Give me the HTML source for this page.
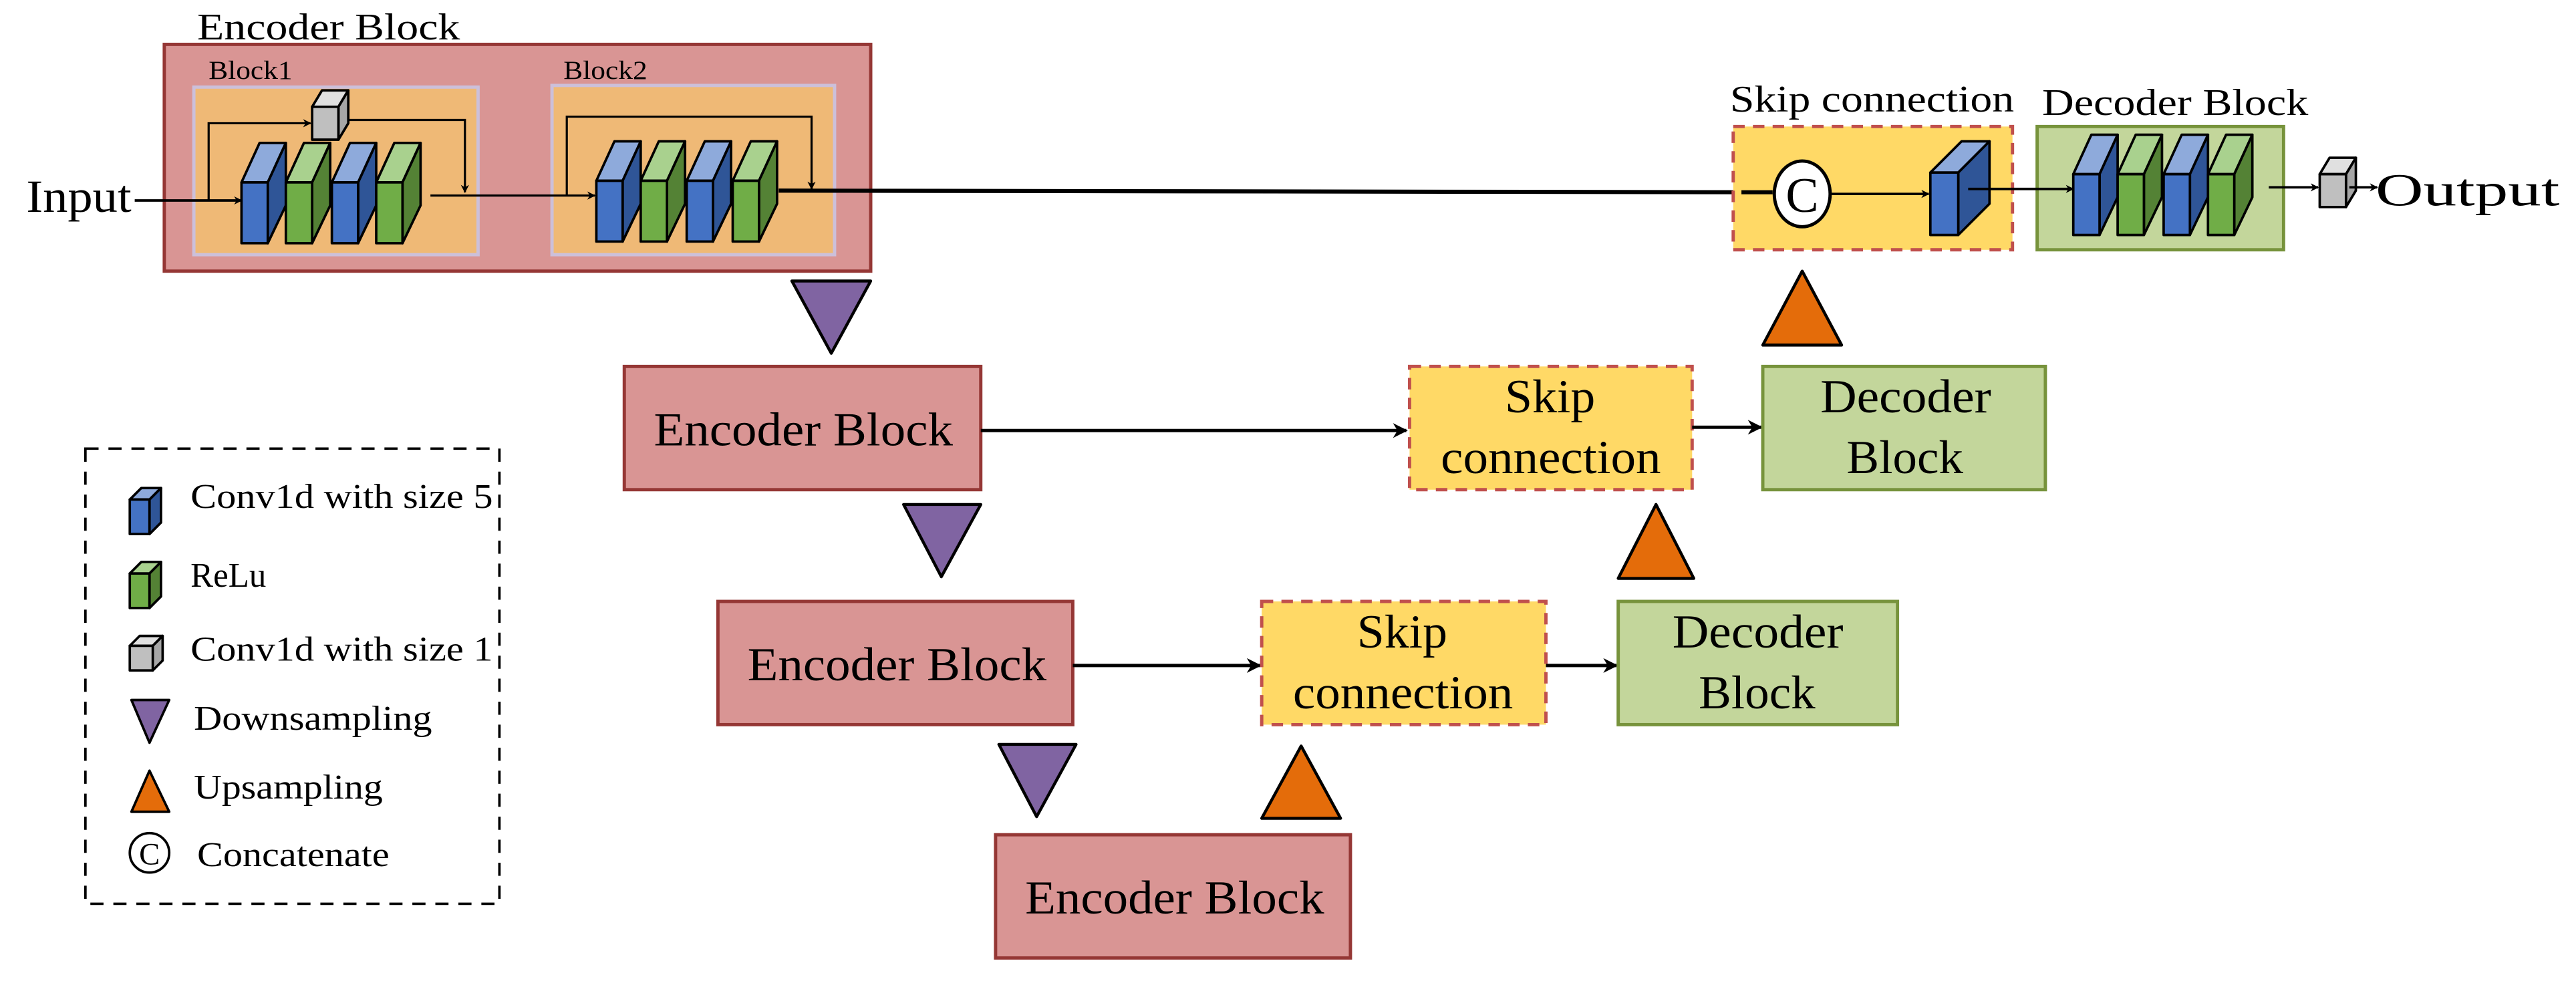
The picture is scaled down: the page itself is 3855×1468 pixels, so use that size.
<!DOCTYPE html>
<html><head><meta charset="utf-8"><style>html,body{margin:0;padding:0;background:#fff}svg{display:block}text{font-family:"Liberation Serif","Times New Roman",serif;fill:#000}</style></head>
<body>
<svg width="3855" height="1468" viewBox="0 0 1568 597" preserveAspectRatio="none" xmlns="http://www.w3.org/2000/svg" font-family="Liberation Serif, serif">
<defs>
<marker id="ar" viewBox="0 0 10 10" refX="9" refY="5" markerWidth="5" markerHeight="5" orient="auto" markerUnits="userSpaceOnUse"><path d="M0,0 L10,5 L0,10 L3,5 z" fill="#000"/></marker>
<marker id="ar2" viewBox="0 0 10 10" refX="9" refY="5" markerWidth="9" markerHeight="9" orient="auto" markerUnits="userSpaceOnUse"><path d="M0,0 L10,5 L0,10 L3,5 z" fill="#000"/></marker>
<g id="bs" stroke="#000" stroke-width="1.5" stroke-linejoin="round">
<polygon points="0,0 16,0 27,-24 11,-24" fill="#8eaadb"/>
<polygon points="16,0 27,-24 27,14 16,37" fill="#2f5597"/>
<rect x="0" y="0" width="16" height="37" fill="#4472c4"/></g>
<g id="gs" stroke="#000" stroke-width="1.5" stroke-linejoin="round">
<polygon points="0,0 16,0 27,-24 11,-24" fill="#a9d18e"/>
<polygon points="16,0 27,-24 27,14 16,37" fill="#548235"/>
<rect x="0" y="0" width="16" height="37" fill="#70ad47"/></g>
<g id="cube" stroke="#000" stroke-width="1.5" stroke-linejoin="round">
<polygon points="0,0 16,0 22,-10 6,-10" fill="#e0e0e0"/>
<polygon points="16,0 22,-10 22,10 16,20" fill="#a6a6a6"/>
<rect x="0" y="0" width="16" height="20" fill="#bfbfbf"/></g>
<g id="lb" stroke="#000" stroke-width="1.5" stroke-linejoin="round">
<polygon points="0,0 12,0 19,-7 7,-7" fill="#8eaadb"/>
<polygon points="12,0 19,-7 19,14 12,21" fill="#2f5597"/>
<rect x="0" y="0" width="12" height="21" fill="#4472c4"/></g>
<g id="lg" stroke="#000" stroke-width="1.5" stroke-linejoin="round">
<polygon points="0,0 12,0 19,-7 7,-7" fill="#a9d18e"/>
<polygon points="12,0 19,-7 19,14 12,21" fill="#548235"/>
<rect x="0" y="0" width="12" height="21" fill="#70ad47"/></g>
<g id="lc" stroke="#000" stroke-width="1.5" stroke-linejoin="round">
<polygon points="0,0 14,0 20,-6 6,-6" fill="#e0e0e0"/>
<polygon points="14,0 20,-6 20,9 14,15" fill="#a6a6a6"/>
<rect x="0" y="0" width="14" height="15" fill="#bfbfbf"/></g>
</defs>

<!-- top encoder -->
<text x="120" y="24" font-size="23" textLength="160" lengthAdjust="spacingAndGlyphs">Encoder Block</text>
<rect x="100" y="27" width="430" height="138" fill="#d99594" stroke="#953735" stroke-width="2"/>
<text x="127" y="48" font-size="16" textLength="51" lengthAdjust="spacingAndGlyphs">Block1</text>
<text x="343" y="48" font-size="16" textLength="51" lengthAdjust="spacingAndGlyphs">Block2</text>
<rect x="118" y="53" width="173" height="102" fill="#efb976" stroke="#ccc0da" stroke-width="2"/>
<rect x="336" y="52" width="172" height="103" fill="#efb976" stroke="#ccc0da" stroke-width="2"/>

<text x="16" y="129" font-size="28" textLength="64" lengthAdjust="spacingAndGlyphs">Input</text>
<line x1="82" y1="122" x2="147" y2="122" stroke="#000" stroke-width="1.5" marker-end="url(#ar)"/>
<polyline points="127,122 127,75 189,75" fill="none" stroke="#000" stroke-width="1.3" marker-end="url(#ar)"/>
<polyline points="210,73 283,73 283,117" fill="none" stroke="#000" stroke-width="1.3" marker-end="url(#ar)"/>
<use href="#cube" x="190" y="65"/>
<use href="#bs" x="147" y="111"/><use href="#gs" x="174" y="111"/><use href="#bs" x="202" y="111"/><use href="#gs" x="229" y="111"/>
<line x1="262" y1="119" x2="362" y2="119" stroke="#000" stroke-width="1.3" marker-end="url(#ar)"/>
<polyline points="345,119 345,71 494,71 494,115" fill="none" stroke="#000" stroke-width="1.3" marker-end="url(#ar)"/>
<use href="#bs" x="363" y="110"/><use href="#gs" x="390" y="110"/><use href="#bs" x="418" y="110"/><use href="#gs" x="446" y="110"/>
<line x1="474" y1="116" x2="1077" y2="117" stroke="#000" stroke-width="2.5" marker-end="url(#ar2)"/>

<!-- top skip -->
<text x="1053" y="68" font-size="23" textLength="173" lengthAdjust="spacingAndGlyphs">Skip connection</text>
<rect x="1055" y="77" width="170" height="75" fill="#ffd966" stroke="#c0504d" stroke-width="2" stroke-dasharray="7,5"/>
<line x1="1060" y1="117" x2="1079" y2="117" stroke="#000" stroke-width="2.5"/>
<ellipse cx="1097" cy="118" rx="17" ry="20" fill="#fff" stroke="#000" stroke-width="2"/>
<text x="1097" y="129" font-size="30" text-anchor="middle">C</text>
<line x1="1114" y1="118" x2="1174" y2="118" stroke="#000" stroke-width="1.5" marker-end="url(#ar)"/>
<g stroke="#000" stroke-width="1.5" stroke-linejoin="round">
<polygon points="1175,105 1192,105 1211,86 1194,86" fill="#8eaadb"/>
<polygon points="1192,105 1211,86 1211,124 1192,143" fill="#2f5597"/>
<rect x="1175" y="105" width="17" height="38" fill="#4472c4"/></g>

<!-- top decoder -->
<text x="1243" y="70" font-size="23" textLength="162" lengthAdjust="spacingAndGlyphs">Decoder Block</text>
<rect x="1240" y="77" width="150" height="75" fill="#c3d69b" stroke="#77933c" stroke-width="2"/>
<line x1="1198" y1="115" x2="1262" y2="115" stroke="#000" stroke-width="1.5" marker-end="url(#ar)"/>
<use href="#bs" x="1262" y="106"/><use href="#gs" x="1289" y="106"/><use href="#bs" x="1317" y="106"/><use href="#gs" x="1344" y="106"/>
<line x1="1381" y1="114" x2="1411" y2="114" stroke="#000" stroke-width="1.5" marker-end="url(#ar)"/>
<use href="#cube" x="1412" y="106"/>
<line x1="1430" y1="114" x2="1447" y2="114" stroke="#000" stroke-width="1.5" marker-end="url(#ar)"/>
<text x="1446" y="125" font-size="28" textLength="112" lengthAdjust="spacingAndGlyphs">Output</text>

<!-- triangles -->
<g stroke="#000" stroke-width="1.8" stroke-linejoin="round">
<polygon points="482,171 530,171 506,215" fill="#8064a2"/>
<polygon points="550,307 597,307 573,351" fill="#8064a2"/>
<polygon points="608,453 655,453 631,497" fill="#8064a2"/>
<polygon points="1073,210 1121,210 1097,165" fill="#e46c0a"/>
<polygon points="985,352 1031,352 1008,307" fill="#e46c0a"/>
<polygon points="768,498 816,498 792,454" fill="#e46c0a"/>
</g>

<!-- level 2 -->
<rect x="380" y="223" width="217" height="75" fill="#d99594" stroke="#953735" stroke-width="2"/>
<text x="398" y="271" font-size="29" textLength="182" lengthAdjust="spacingAndGlyphs">Encoder Block</text>
<line x1="597" y1="262" x2="856" y2="262" stroke="#000" stroke-width="2" marker-end="url(#ar2)"/>
<rect x="858" y="223" width="172" height="75" fill="#ffd966" stroke="#c0504d" stroke-width="2" stroke-dasharray="7,5"/>
<text x="916" y="251" font-size="29" textLength="55" lengthAdjust="spacingAndGlyphs">Skip</text>
<text x="877" y="288" font-size="29" textLength="134" lengthAdjust="spacingAndGlyphs">connection</text>
<line x1="1030" y1="260" x2="1072" y2="260" stroke="#000" stroke-width="2" marker-end="url(#ar2)"/>
<rect x="1073" y="223" width="172" height="75" fill="#c3d69b" stroke="#77933c" stroke-width="2"/>
<text x="1108" y="251" font-size="29" textLength="104" lengthAdjust="spacingAndGlyphs">Decoder</text>
<text x="1124" y="288" font-size="29" textLength="71" lengthAdjust="spacingAndGlyphs">Block</text>

<!-- level 3 -->
<rect x="437" y="366" width="216" height="75" fill="#d99594" stroke="#953735" stroke-width="2"/>
<text x="455" y="414" font-size="29" textLength="182" lengthAdjust="spacingAndGlyphs">Encoder Block</text>
<line x1="653" y1="405" x2="767" y2="405" stroke="#000" stroke-width="2" marker-end="url(#ar2)"/>
<rect x="768" y="366" width="173" height="75" fill="#ffd966" stroke="#c0504d" stroke-width="2" stroke-dasharray="7,5"/>
<text x="826" y="394" font-size="29" textLength="55" lengthAdjust="spacingAndGlyphs">Skip</text>
<text x="787" y="431" font-size="29" textLength="134" lengthAdjust="spacingAndGlyphs">connection</text>
<line x1="941" y1="405" x2="984" y2="405" stroke="#000" stroke-width="2" marker-end="url(#ar2)"/>
<rect x="985" y="366" width="170" height="75" fill="#c3d69b" stroke="#77933c" stroke-width="2"/>
<text x="1018" y="394" font-size="29" textLength="104" lengthAdjust="spacingAndGlyphs">Decoder</text>
<text x="1034" y="431" font-size="29" textLength="71" lengthAdjust="spacingAndGlyphs">Block</text>

<!-- level 4 -->
<rect x="606" y="508" width="216" height="75" fill="#d99594" stroke="#953735" stroke-width="2"/>
<text x="624" y="556" font-size="29" textLength="182" lengthAdjust="spacingAndGlyphs">Encoder Block</text>

<!-- legend -->
<rect x="52" y="273" width="252" height="277" fill="none" stroke="#000" stroke-width="1.5" stroke-dasharray="8,6"/>
<use href="#lb" x="79" y="304"/><text x="116" y="309" font-size="21" textLength="184" lengthAdjust="spacingAndGlyphs">Conv1d with size 5</text>
<use href="#lg" x="79" y="349"/><text x="116" y="357" font-size="21" textLength="46" lengthAdjust="spacingAndGlyphs">ReLu</text>
<use href="#lc" x="79" y="393"/><text x="116" y="402" font-size="21" textLength="184" lengthAdjust="spacingAndGlyphs">Conv1d with size 1</text>
<polygon points="80,426 103,426 91,452" fill="#8064a2" stroke="#000" stroke-width="1.5" stroke-linejoin="round"/>
<text x="118" y="444" font-size="21" textLength="145" lengthAdjust="spacingAndGlyphs">Downsampling</text>
<polygon points="80,494 103,494 91,469" fill="#e46c0a" stroke="#000" stroke-width="1.5" stroke-linejoin="round"/>
<text x="118" y="486" font-size="21" textLength="115" lengthAdjust="spacingAndGlyphs">Upsampling</text>
<circle cx="91" cy="519" r="12" fill="#fff" stroke="#000" stroke-width="1.5"/>
<text x="91" y="526" font-size="19" text-anchor="middle">C</text>
<text x="120" y="527" font-size="21" textLength="117" lengthAdjust="spacingAndGlyphs">Concatenate</text>
</svg>
</body></html>
